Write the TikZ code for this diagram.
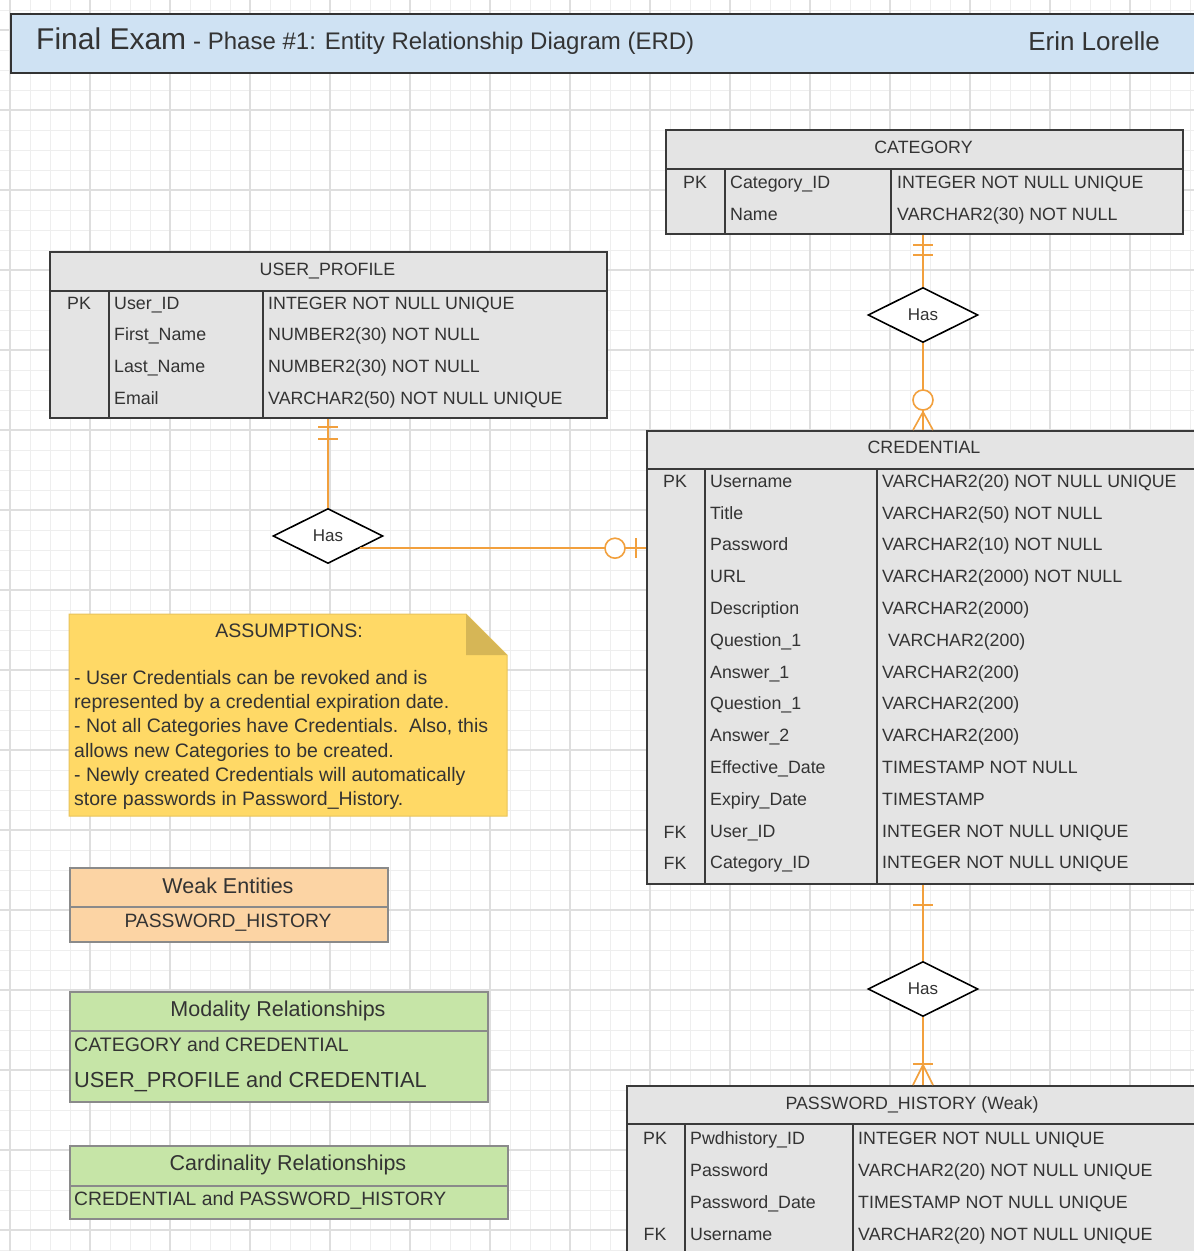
\documentclass[tikz,border=0pt]{standalone}
\usepackage{fontspec}
\setmainfont{Liberation Sans}
\usetikzlibrary{shapes.geometric,calc}
\definecolor{ink}{HTML}{333333}
\definecolor{tline}{HTML}{3A3A3A}
\definecolor{tfill}{HTML}{E4E4E4}
\definecolor{titlefill}{HTML}{CFE2F3}
\definecolor{orng}{HTML}{F2A03D}
\definecolor{notefill}{HTML}{FFD966}
\definecolor{notefold}{HTML}{D6B656}
\definecolor{noteline}{HTML}{E8C35A}
\definecolor{weakfill}{HTML}{FCD4A4}
\definecolor{greenfill}{HTML}{C6E5A7}
\definecolor{legline}{HTML}{8A8A8A}
\definecolor{gridminor}{HTML}{EEEEEE}
\definecolor{gridmajor}{HTML}{DEDEDE}
\newcommand\tblfont{\fontsize{17.8}{21}\selectfont}
\newcommand\notefont{\fontsize{19.5}{24}\selectfont}
\begin{document}
\begin{tikzpicture}[x=1pt,y=-1pt,
  every node/.style={text=ink},
  tbl/.style={draw=tline, line width=1.8pt, fill=tfill, anchor=north west, inner sep=0},
  tl/.style={draw=tline, line width=1.8pt},
  cell/.style={inner sep=0, text height=12.5pt, text depth=0pt, anchor=west, font=\tblfont},
  ccell/.style={cell, anchor=center},
  rel/.style={draw=orng, line width=1.6pt},
  hasbox/.style={shape=diamond, draw=black, line width=1.6pt, fill=white, minimum width=110pt, minimum height=55pt, inner sep=0, font=\fontsize{17}{20}\selectfont, text=ink},
  legbox/.style={draw=legline, line width=1.5pt, anchor=north west, inner sep=0},
  leg/.style={inner sep=0, text height=14pt, text depth=0pt},
  nline/.style={inner sep=0, anchor=base west, font=\notefont}
]
\clip (0,0) rectangle (1194,1251);
\fill[white] (0,0) rectangle (1194,1251);
% grid
\foreach \x in {10,30,...,1190} \draw[gridminor, line width=0.9pt] (\x,0) -- (\x,1251);
\foreach \y in {10,30,...,1250} \draw[gridminor, line width=0.9pt] (0,\y) -- (1194,\y);
\foreach \x in {10,90,...,1190} \draw[gridmajor, line width=1.2pt] (\x,0) -- (\x,1251);
\foreach \y in {30,110,...,1250} \draw[gridmajor, line width=1.2pt] (0,\y) -- (1194,\y);

% title banner
\node[draw=ink, line width=1.5pt, fill=titlefill, anchor=north west, minimum width=1200pt, minimum height=59pt, inner sep=0] (banner) at (10,13) {};
\node[anchor=base west, inner sep=0] (ttl) at (36,49.5) {{\fontsize{30}{36}\selectfont Final Exam}\hspace{7pt}{\fontsize{24}{28}\selectfont - Phase \#1: Entity Relationship Diagram (ERD)}};
\node[anchor=base east, inner sep=0] (author) at (1160,50) {\fontsize{26}{30}\selectfont Erin Lorelle};

% relationship diamonds
\node[hasbox] (d1) at (923,315) {Has};
\node[hasbox] (d2) at (328,536) {Has};
\node[hasbox] (d3) at (923,989) {Has};

% CATEGORY
\node[tbl, minimum width=517pt, minimum height=104pt] (cat) at (665,129) {};
\draw[tl] ([yshift=-40pt]cat.north west) -- ([yshift=-40pt]cat.north east);
\draw[tl] ([xshift=60pt,yshift=-40pt]cat.north west) -- ([xshift=60pt]cat.south west);
\draw[tl] ([xshift=226pt,yshift=-40pt]cat.north west) -- ([xshift=226pt]cat.south west);
\node[ccell] (cath) at (923.5,147) {CATEGORY};
\node[ccell] (catpk) at (695,182) {PK};
\node[cell] (catn1) at (730,182) {Category\_ID};
\node[cell] (catt1) at (897,182) {INTEGER NOT NULL UNIQUE};
\node[cell] (catn2) at (730,214) {Name};
\node[cell] (catt2) at (897,214) {VARCHAR2(30) NOT NULL};

% USER_PROFILE
\node[tbl, minimum width=557pt, minimum height=166pt] (up) at (49,251) {};
\draw[tl] ([yshift=-40pt]up.north west) -- ([yshift=-40pt]up.north east);
\draw[tl] ([xshift=60pt,yshift=-40pt]up.north west) -- ([xshift=60pt]up.south west);
\draw[tl] ([xshift=214pt,yshift=-40pt]up.north west) -- ([xshift=214pt]up.south west);
\node[ccell] (uph) at (327.5,269) {USER\_PROFILE};
\node[ccell] (uppk) at (79,303) {PK};
\foreach \n/\t [count=\i from 0] in {User\_ID/INTEGER NOT NULL UNIQUE, First\_Name/NUMBER2(30) NOT NULL, Last\_Name/NUMBER2(30) NOT NULL, Email/VARCHAR2(50) NOT NULL UNIQUE}{
  \node[cell] (upn\i) at (114,{303+31.6*\i}) {\n};
  \node[cell] (upt\i) at (268,{303+31.6*\i}) {\t};
}

% CREDENTIAL
\node[tbl, minimum width=556pt, minimum height=453pt] (cred) at (646,430) {};
\draw[tl] ([yshift=-39pt]cred.north west) -- ([yshift=-39pt]cred.north east);
\draw[tl] ([xshift=59pt,yshift=-39pt]cred.north west) -- ([xshift=59pt]cred.south west);
\draw[tl] ([xshift=231pt,yshift=-39pt]cred.north west) -- ([xshift=231pt]cred.south west);
\node[ccell] (credh) at (924,447) {CREDENTIAL};
\node[ccell] (credpk) at (675,481) {PK};
\node[ccell] (credfk1) at (675,832) {FK};
\node[ccell] (credfk2) at (675,863) {FK};
\foreach \n/\t [count=\i from 0] in {Username/VARCHAR2(20) NOT NULL UNIQUE, Title/VARCHAR2(50) NOT NULL, Password/VARCHAR2(10) NOT NULL, URL/VARCHAR2(2000) NOT NULL, Description/VARCHAR2(2000), Question\_1/\hspace{6pt}VARCHAR2(200), Answer\_1/VARCHAR2(200), Question\_1/VARCHAR2(200), Answer\_2/VARCHAR2(200), Effective\_Date/TIMESTAMP NOT NULL, Expiry\_Date/TIMESTAMP, User\_ID/INTEGER NOT NULL UNIQUE, Category\_ID/INTEGER NOT NULL UNIQUE}{
  \node[cell] (credn\i) at (710,{481+31.8*\i}) {\n};
  \node[cell] (credt\i) at (882,{481+31.8*\i}) {\t};
}

% PASSWORD_HISTORY
\node[tbl, minimum width=572pt, minimum height=200pt] (pwd) at (626,1085) {};
\draw[tl] ([yshift=-39pt]pwd.north west) -- ([yshift=-39pt]pwd.north east);
\draw[tl] ([xshift=59pt,yshift=-39pt]pwd.north west) -- ([xshift=59pt]pwd.south west);
\draw[tl] ([xshift=227pt,yshift=-39pt]pwd.north west) -- ([xshift=227pt]pwd.south west);
\node[ccell] (pwdh) at (912,1103) {PASSWORD\_HISTORY (Weak)};
\node[ccell] (pwdpk) at (655,1138) {PK};
\node[ccell] (pwdfk) at (655,1234) {FK};
\foreach \n/\t [count=\i from 0] in {Pwdhistory\_ID/INTEGER NOT NULL UNIQUE, Password/VARCHAR2(20) NOT NULL UNIQUE, Password\_Date/TIMESTAMP NOT NULL UNIQUE, Username/VARCHAR2(20) NOT NULL UNIQUE}{
  \node[cell] (pwdn\i) at (690,{1138+32*\i}) {\n};
  \node[cell] (pwdt\i) at (858,{1138+32*\i}) {\t};
}

% ---- connectors ----
% CATEGORY -- Has -- CREDENTIAL
\draw[rel] (d1.north |- cat.south) -- (d1.north);
\draw[rel] (d1.south) -- (d1.south |- cred.north);
\coordinate (c1) at (d1.north |- cat.south);
\draw[rel] ($(c1)+(-10,10)$) -- ++(20,0);
\draw[rel] ($(c1)+(-10,20)$) -- ++(20,0);
\coordinate (c2) at (d1.south |- cred.north);
\draw[rel] ($(c2)+(0,-18)$) -- ($(c2)+(-10,0)$);
\draw[rel] ($(c2)+(0,-18)$) -- (c2);
\draw[rel] ($(c2)+(0,-18)$) -- ($(c2)+(10,0)$);
\draw[rel, fill=white] ($(c2)+(0,-30)$) circle[radius=10pt];

% USER_PROFILE -- Has -- CREDENTIAL
\draw[rel] (d2.north |- up.south) -- (d2.north);
\coordinate (c3) at (d2.north |- up.south);
\draw[rel] ($(c3)+(-10,8)$) -- ++(20,0);
\draw[rel] ($(c3)+(-10,20)$) -- ++(20,0);
\draw[rel] (d2.-21.4) -- (d2.-21.4 -| cred.west);
\coordinate (c4) at (d2.-21.4 -| cred.west);
\draw[rel] ($(c4)+(-10,-10)$) -- ++(0,20);
\draw[rel, fill=white] ($(c4)+(-31,0)$) circle[radius=10pt];

% CREDENTIAL -- Has -- PASSWORD_HISTORY
\draw[rel] (d3.north |- cred.south) -- (d3.north);
\draw[rel] (d3.south) -- (d3.south |- pwd.north);
\coordinate (c5) at (d3.north |- cred.south);
\draw[rel] ($(c5)+(-10,20)$) -- ++(20,0);
\coordinate (c6) at (d3.south |- pwd.north);
\draw[rel] ($(c6)+(-10,-21)$) -- ++(20,0);
\draw[rel] ($(c6)+(0,-20)$) -- ($(c6)+(-10,0)$);
\draw[rel] ($(c6)+(0,-20)$) -- (c6);
\draw[rel] ($(c6)+(0,-20)$) -- ($(c6)+(10,0)$);

% ASSUMPTIONS note
\fill[notefill, draw=noteline, line width=1pt] (69,614) -- (466,614) -- (507,655) -- (507,816) -- (69,816) -- cycle;
\fill[notefold] (466,614) -- (466,655) -- (507,655) -- cycle;
\node[inner sep=0, anchor=base, font=\notefont] (nh) at (289,637) {ASSUMPTIONS:};
\node[nline] (nl1) at (74,684) {- User Credentials can be revoked and is};
\node[nline] (nl2) at (74,708) {represented by a credential expiration date.};
\node[nline] (nl3) at (74,732) {- Not all Categories have Credentials.\ \ Also, this};
\node[nline] (nl4) at (74,757) {allows new Categories to be created.};
\node[nline] (nl5) at (74,781) {- Newly created Credentials will automatically};
\node[nline] (nl6) at (74,805) {store passwords in Password\_History.};

% Weak Entities
\node[legbox, fill=weakfill, minimum width=318pt, minimum height=74pt] (weak) at (69,867) {};
\draw[draw=legline, line width=1.5pt] ([yshift=-40pt]weak.north west) -- ([yshift=-40pt]weak.north east);
\node[leg, font=\fontsize{21.5}{25}\selectfont] (weakh) at (228,886) {Weak Entities};
\node[leg, font=\fontsize{19.3}{22}\selectfont] (weakt) at (228,920) {PASSWORD\_HISTORY};

% Modality
\node[legbox, fill=greenfill, minimum width=418pt, minimum height=110pt] (mod) at (69,991) {};
\draw[draw=legline, line width=1.5pt] ([yshift=-40pt]mod.north west) -- ([yshift=-40pt]mod.north east);
\node[leg, font=\fontsize{21.5}{25}\selectfont] (modh) at (278,1009) {Modality Relationships};
\node[leg, anchor=west, font=\fontsize{19.5}{23}\selectfont] (modt1) at (74,1044) {CATEGORY and CREDENTIAL};
\node[leg, anchor=west, font=\fontsize{21.8}{25}\selectfont] (modt2) at (74,1080) {USER\_PROFILE and CREDENTIAL};

% Cardinality
\node[legbox, fill=greenfill, minimum width=438pt, minimum height=73pt] (card) at (69,1145) {};
\draw[draw=legline, line width=1.5pt] ([yshift=-41pt]card.north west) -- ([yshift=-41pt]card.north east);
\node[leg, font=\fontsize{21.5}{25}\selectfont] (cardh) at (288,1163) {Cardinality Relationships};
\node[leg, anchor=west, font=\fontsize{19.3}{23}\selectfont] (cardt) at (74,1198) {CREDENTIAL and PASSWORD\_HISTORY};
\end{tikzpicture}
\end{document}
